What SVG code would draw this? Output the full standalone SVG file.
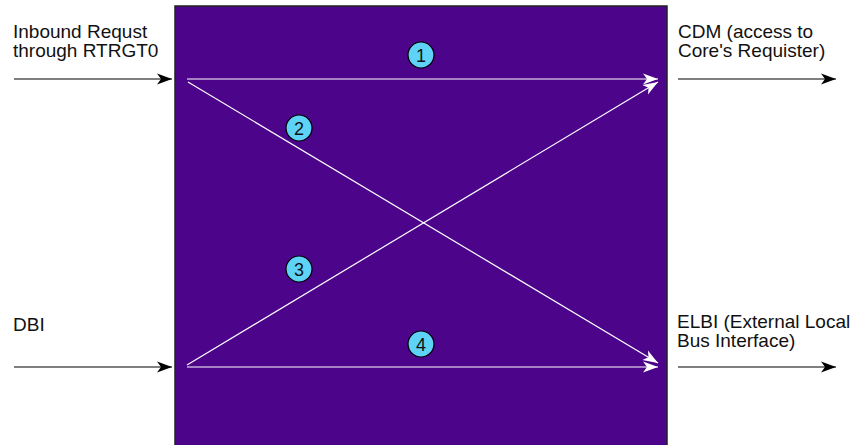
<svg xmlns="http://www.w3.org/2000/svg" width="853" height="445" viewBox="0 0 853 445">
<style>
text{font-family:"Liberation Sans",Arial,sans-serif;font-size:19px;fill:#111}
.num{font-size:18px;text-anchor:middle}
.blk{stroke:#000;stroke-width:1.2;fill:none}
.wht{stroke:#fff;stroke-width:1.2;fill:none}
.badge{fill:#5fd3f7;stroke:#000;stroke-width:1.2}
</style>
<defs>
<marker id="ab" markerWidth="16" markerHeight="12" refX="15" refY="6" orient="auto" markerUnits="userSpaceOnUse">
<path d="M0,0.5 L15,6 L0,11.5 L4,6 z" fill="#000"/>
</marker>
<marker id="aw" markerWidth="16" markerHeight="12" refX="15" refY="6" orient="auto" markerUnits="userSpaceOnUse">
<path d="M0,0.5 L15,6 L0,11.5 L4,6 z" fill="#fff"/>
</marker>
</defs>
<g id="block">
<rect x="175" y="6" width="492" height="450" fill="#4c048a" stroke="#222" stroke-width="1.5"/>
</g>
<g id="labels">
<text x="13" y="38">Inbound Requst</text>
<text x="13" y="57">through RTRGT0</text>
<text x="678" y="38">CDM (access to</text>
<text x="678" y="57">Core's Requister)</text>
<text x="13" y="331">DBI</text>
<text x="677" y="328">ELBI (External Local</text>
<text x="677" y="347">Bus Interface)</text>
</g>
<g id="connectors">
<line class="blk" x1="14" y1="79" x2="172" y2="79" marker-end="url(#ab)"/>
<line class="blk" x1="678" y1="79" x2="836" y2="79" marker-end="url(#ab)"/>
<line class="blk" x1="14" y1="367" x2="172" y2="367" marker-end="url(#ab)"/>
<line class="blk" x1="678" y1="367" x2="836" y2="367" marker-end="url(#ab)"/>
<line class="wht" x1="187" y1="79" x2="658" y2="79" marker-end="url(#aw)"/>
<line class="wht" x1="188" y1="82" x2="658" y2="363" marker-end="url(#aw)"/>
<line class="wht" x1="187" y1="365" x2="658" y2="82" marker-end="url(#aw)"/>
<line class="wht" x1="187" y1="367" x2="658" y2="367" marker-end="url(#aw)"/>
</g>
<g id="badge1"><circle class="badge" cx="421" cy="55" r="13"/><text class="num" x="421" y="61.5">1</text></g>
<g id="badge2"><circle class="badge" cx="299" cy="128" r="13"/><text class="num" x="299" y="134.5">2</text></g>
<g id="badge3"><circle class="badge" cx="299" cy="269" r="13"/><text class="num" x="299" y="275.5">3</text></g>
<g id="badge4"><circle class="badge" cx="421" cy="344" r="13"/><text class="num" x="421" y="350.5">4</text></g>
</svg>
